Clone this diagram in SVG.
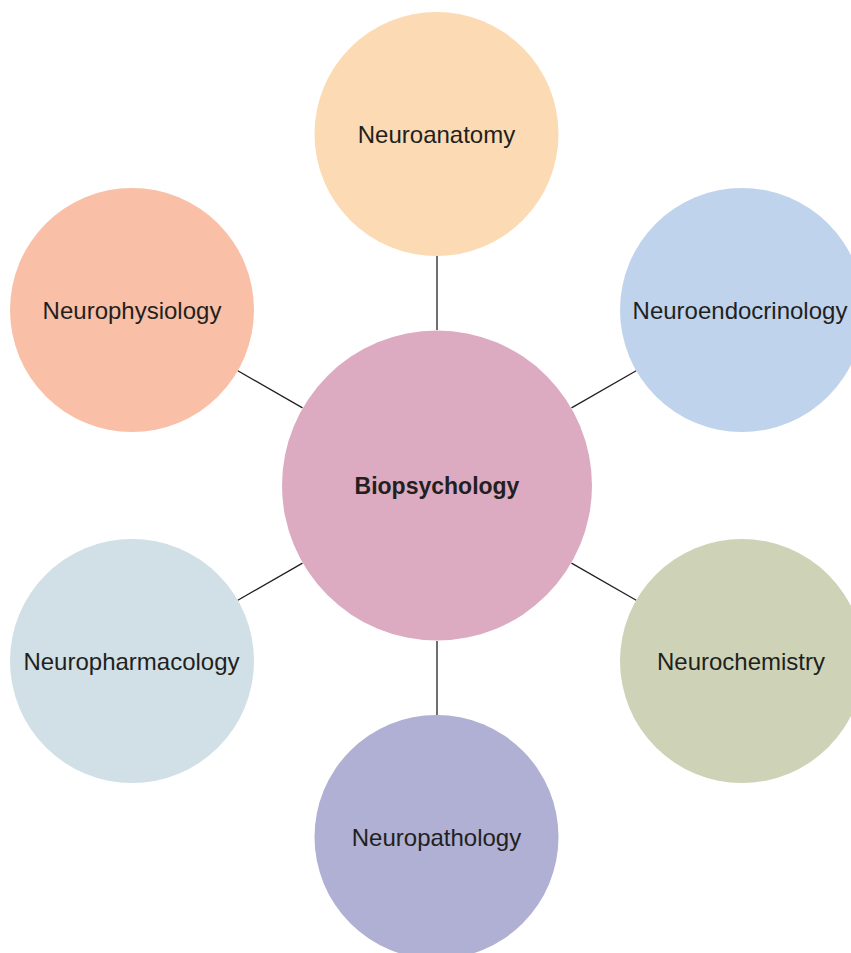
<svg xmlns="http://www.w3.org/2000/svg" width="851" height="953" viewBox="0 0 851 953">
<style>
.lbl{font-family:"Liberation Sans",Arial,Helvetica,sans-serif;font-size:24px;fill:#231f20;text-anchor:middle}
.main{font-weight:bold;font-size:23px}
.conn line{stroke:#231f20;stroke-width:1.3}
</style>
<rect width="851" height="953" fill="#ffffff"/>
<g id="connectors" class="conn">
<line x1="437" y1="256" x2="437" y2="330"/>
<line x1="237.8" y1="370.7" x2="302.5" y2="407.9"/>
<line x1="571.5" y1="407.9" x2="636.2" y2="370.7"/>
<line x1="237.8" y1="600.3" x2="302.5" y2="563.1"/>
<line x1="571.5" y1="563.1" x2="636.2" y2="600.3"/>
<line x1="437" y1="641" x2="437" y2="715"/>
</g>
<g id="neuroanatomy">
<circle cx="436.5" cy="134" r="122" fill="#fcdab3"/>
<text class="lbl" x="436.5" y="142.5">Neuroanatomy</text>
</g>
<g id="neurophysiology">
<circle cx="132" cy="310" r="122" fill="#f9bfa7"/>
<text class="lbl" x="132" y="318.5">Neurophysiology</text>
</g>
<g id="neuroendocrinology">
<circle cx="742" cy="310" r="122" fill="#bfd3ec"/>
<text class="lbl" x="740" y="318.5">Neuroendocrinology</text>
</g>
<g id="biopsychology">
<circle cx="437" cy="485.5" r="155" fill="#dcabc2"/>
<text class="lbl main" x="437" y="494">Biopsychology</text>
</g>
<g id="neuropharmacology">
<circle cx="132" cy="661" r="122" fill="#d1dfe6"/>
<text class="lbl" x="131.5" y="669.5">Neuropharmacology</text>
</g>
<g id="neurochemistry">
<circle cx="742" cy="661" r="122" fill="#ced2b6"/>
<text class="lbl" x="741" y="669.5">Neurochemistry</text>
</g>
<g id="neuropathology">
<circle cx="436.5" cy="837" r="122" fill="#afb0d3"/>
<text class="lbl" x="436.5" y="845.5">Neuropathology</text>
</g>
</svg>
